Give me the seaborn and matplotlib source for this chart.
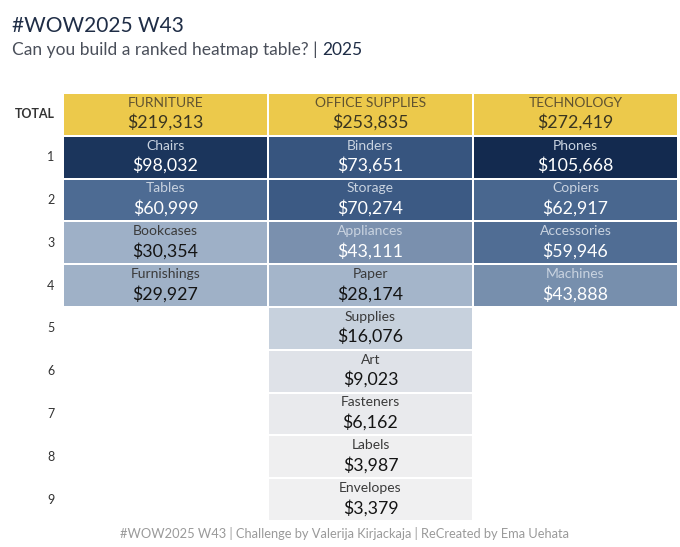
import numpy as np
import pandas as pd
import seaborn as sns
import matplotlib.pyplot as plt
from matplotlib.colors import LinearSegmentedColormap, ListedColormap

# Data
categories = ["FURNITURE", "OFFICE SUPPLIES", "TECHNOLOGY"]
totals = [219313, 253835, 272419]

furniture_subs = ["Chairs", "Tables", "Bookcases", "Furnishings"]
furniture_sales = [98032, 60999, 30354, 29927]

office_subs = ["Binders", "Storage", "Appliances", "Paper", "Supplies",
               "Art", "Fasteners", "Labels", "Envelopes"]
office_sales = [73651, 70274, 43111, 28174, 16076, 9023, 6162, 3987, 3379]

tech_subs = ["Phones", "Copiers", "Accessories", "Machines"]
tech_sales = [105668, 62917, 59946, 43888]

row_labels = ["TOTAL"] + [str(i) for i in range(1, 10)]

subs = [furniture_subs, office_subs, tech_subs]
sales = [furniture_sales, office_sales, tech_sales]

# Build a 10 x 3 table: row 0 = totals, rows 1..9 = rank
n_rows = 10
vals = np.full((n_rows, 3), np.nan)
names = [[None] * 3 for _ in range(n_rows)]
for c in range(3):
    vals[0, c] = totals[c]
    names[0][c] = categories[c]
    for r, (s, v) in enumerate(zip(subs[c], sales[c])):
        vals[r + 1, c] = v
        names[r + 1][c] = s

df = pd.DataFrame(vals, index=row_labels, columns=categories)

sns.set_style("white")
plt.rcParams["font.family"] = ["Lato", "DejaVu Sans"]

vmin, vmax = 3379, 105668
nodes = [(0.0, "#f0f0f1"), (0.055, "#dfe2e8"), (0.124, "#c6d0dd"),
         (0.25, "#a2b3c9"), (0.39, "#7990ae"), (0.568, "#4c6a92"),
         (0.67, "#395781"), (0.925, "#1b355c"), (1.0, "#132a4f")]
blues = LinearSegmentedColormap.from_list("rankblue", nodes)

fig = plt.figure(figsize=(6.8, 5.47), dpi=100)
ax = fig.add_axes([63 / 680, 1 - 521 / 547, 615 / 680, 428 / 547])

body_mask = df.isna().values.copy()
body_mask[0, :] = True
total_mask = np.ones_like(body_mask)
total_mask[0, :] = False

sns.heatmap(df, mask=body_mask, cmap=blues, vmin=vmin, vmax=vmax, cbar=False,
            linewidths=1.2, linecolor="white", ax=ax)
sns.heatmap(df, mask=total_mask, cmap=ListedColormap(["#ecc94b"]), cbar=False,
            linewidths=1.2, linecolor="white", ax=ax)

# Cell text
for r in range(n_rows):
    for c in range(3):
        v = vals[r, c]
        if np.isnan(v):
            continue
        if r == 0:
            name_col, val_col = "#615330", "#3a3520"
        elif v > 35000:
            name_col, val_col = "#c9d3e0", "white"
        else:
            name_col, val_col = "#3a3a3a", "#141414"
        ax.text(c + 0.5, r + 0.23, names[r][c], ha="center", va="center",
                fontsize=10, color=name_col)
        ax.text(c + 0.5, r + 0.69, f"${v:,.0f}", ha="center", va="center",
                fontsize=12.8, color=val_col)

ax.set_xticks([])
ax.set_xlabel("")
ax.set_ylabel("")
ax.set_yticks(np.arange(n_rows) + 0.5)
ax.set_yticklabels(row_labels, rotation=0, fontsize=9, color="#333333")
ax.get_yticklabels()[0].set_fontweight("bold")
ax.tick_params(axis="y", length=0, pad=6)
for s in ax.spines.values():
    s.set_visible(False)

# Titles
fig.text(12 / 680, 1 - 26 / 547, "#WOW2025 W43", fontsize=15, color="#1f2d46",
         va="center", ha="left")
t = fig.text(12 / 680, 1 - 50 / 547, "Can you build a ranked heatmap table? | ",
             fontsize=12.5, color="#4a4f5a", va="center", ha="left")
fig.canvas.draw()
bb = t.get_window_extent()
fig.text(bb.x1 / fig.bbox.width, 1 - 50 / 547, "2025", fontsize=12.5,
         color="#1f2d46", va="center", ha="left")

fig.text(344 / 680, 1 - 534 / 547,
         "#WOW2025 W43 | Challenge by Valerija Kirjackaja | ReCreated by Ema Uehata",
         fontsize=9.3, color="#9a9a9a", ha="center", va="center")

fig.savefig("out.png", dpi=100)
